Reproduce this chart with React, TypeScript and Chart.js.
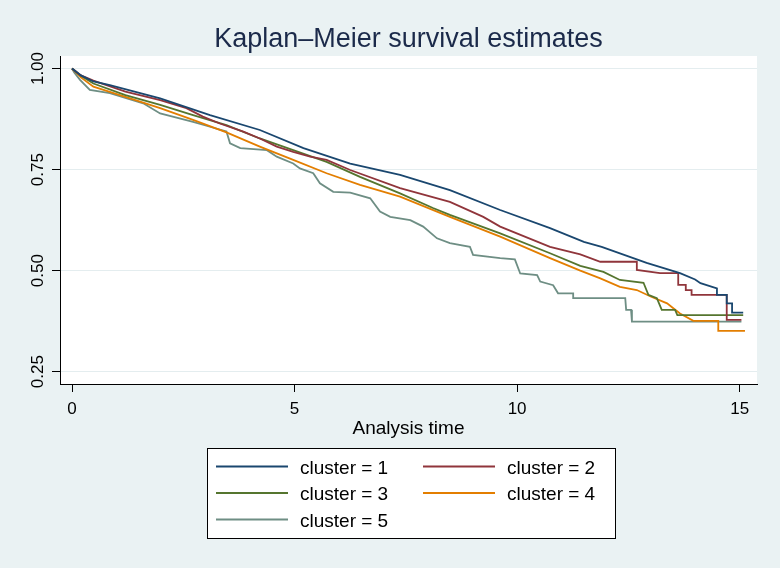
import React, { useEffect, useRef } from 'react';
import { Chart, registerables } from 'chart.js';

Chart.register(...registerables);

// ---- data ----
const titleText = 'Kaplan–Meier survival estimates';
const xAxisTitle = 'Analysis time';
const xTickValues = [0, 5, 10, 15];
const yTickValues = [0.25, 0.5, 0.75, 1.0];
const yTickLabels = ['0.25', '0.50', '0.75', '1.00'];
const clusterLabels = ['cluster = 1', 'cluster = 2', 'cluster = 3', 'cluster = 4', 'cluster = 5'];

const c1Time = [0, 0.2, 0.48, 0.85, 1.98, 3.1, 4.22, 5.2, 6.25, 7.37, 8.49, 9.62, 10.74, 11.5, 11.9, 12.91, 13.66, 14.0, 14.12, 14.49, 14.49, 14.71, 14.71, 14.83, 14.83, 15.08];
const c1Surv = [1, 0.983, 0.968, 0.959, 0.926, 0.885, 0.848, 0.803, 0.765, 0.737, 0.699, 0.65, 0.605, 0.571, 0.559, 0.519, 0.494, 0.478, 0.469, 0.456, 0.44, 0.44, 0.419, 0.419, 0.396, 0.396];

const c2Time = [0, 0.2, 0.48, 1.2, 1.98, 2.57, 2.94, 3.32, 3.85, 4.22, 4.6, 4.97, 5.35, 5.72, 6.25, 7.37, 8.49, 9.24, 9.62, 10.74, 11.42, 11.87, 12.69, 12.69, 13.21, 13.62, 13.62, 13.79, 13.79, 13.92, 13.92, 14.71, 14.71, 15.04];
const c2Surv = [1, 0.983, 0.97, 0.943, 0.922, 0.902, 0.881, 0.864, 0.844, 0.827, 0.807, 0.794, 0.782, 0.774, 0.749, 0.704, 0.67, 0.633, 0.609, 0.559, 0.54, 0.522, 0.522, 0.502, 0.494, 0.494, 0.465, 0.465, 0.452, 0.452, 0.44, 0.44, 0.378, 0.378];

const c3Time = [0, 0.2, 0.48, 1.2, 1.98, 2.72, 3.47, 4.22, 4.97, 5.72, 6.47, 7.37, 8.11, 8.49, 9.62, 10.74, 11.42, 11.94, 12.31, 12.84, 12.95, 13.14, 13.25, 13.55, 13.6, 15.08];
const c3Surv = [1, 0.982, 0.963, 0.934, 0.91, 0.885, 0.86, 0.827, 0.798, 0.769, 0.732, 0.691, 0.655, 0.638, 0.592, 0.543, 0.512, 0.497, 0.477, 0.47, 0.44, 0.432, 0.403, 0.403, 0.39, 0.39];

const c4Time = [0, 0.2, 0.48, 1.2, 1.98, 2.72, 3.47, 4.22, 4.97, 5.72, 6.47, 7.37, 8.49, 9.62, 10.74, 11.42, 11.87, 12.31, 12.69, 13.0, 13.37, 13.51, 13.66, 13.96, 14.52, 14.52, 15.12];
const c4Surv = [1, 0.978, 0.955, 0.93, 0.902, 0.873, 0.842, 0.807, 0.774, 0.741, 0.712, 0.683, 0.633, 0.584, 0.531, 0.5, 0.481, 0.46, 0.452, 0.436, 0.419, 0.407, 0.394, 0.376, 0.376, 0.351, 0.351];

const c5Time = [0, 0.05, 0.18, 0.4, 0.85, 1.6, 1.98, 2.72, 3.1, 3.47, 3.55, 3.78, 4.38, 4.6, 4.97, 5.12, 5.42, 5.57, 5.87, 6.25, 6.7, 6.92, 7.15, 7.6, 7.89, 8.2, 8.49, 8.94, 9.01, 9.62, 9.95, 10.07, 10.45, 10.52, 10.81, 10.92, 11.26, 11.26, 12.43, 12.45, 12.56, 12.58, 15.04];
const c5Surv = [1, 0.99, 0.972, 0.947, 0.939, 0.914, 0.889, 0.868, 0.856, 0.844, 0.815, 0.803, 0.798, 0.782, 0.765, 0.753, 0.741, 0.716, 0.695, 0.693, 0.679, 0.646, 0.633, 0.625, 0.609, 0.58, 0.568, 0.559, 0.539, 0.531, 0.528, 0.493, 0.489, 0.473, 0.464, 0.444, 0.444, 0.432, 0.432, 0.403, 0.403, 0.374, 0.374];

const seriesTimes = [c1Time, c2Time, c3Time, c4Time, c5Time];
const seriesSurv = [c1Surv, c2Surv, c3Surv, c4Surv, c5Surv];

// ---- styles ----
const lineColors = ['#1A476F', '#90353B', '#55752F', '#E37E00', '#6E8E84'];
const FONT = '"Liberation Sans", Arial, Helvetica, sans-serif';
const BG = '#EAF2F3';

const textPlugin = {
  id: 'stataText',
  beforeDraw(chart: any) {
    const { ctx, chartArea } = chart;
    ctx.save();
    ctx.fillStyle = '#FFFFFF';
    ctx.fillRect(chartArea.left, chartArea.top, chartArea.right - chartArea.left, chartArea.bottom - chartArea.top);
    ctx.restore();
  },
  afterDraw(chart: any) {
    const { ctx, chartArea, scales } = chart;
    const cx = (chartArea.left + chartArea.right) / 2;
    ctx.save();
    // title
    ctx.fillStyle = '#1B2A4A';
    ctx.font = `27px ${FONT}`;
    ctx.textAlign = 'center';
    ctx.textBaseline = 'alphabetic';
    ctx.fillText(titleText, cx, 47);

    // x tick labels
    ctx.fillStyle = '#000';
    ctx.font = `17px ${FONT}`;
    xTickValues.forEach((v) => {
      ctx.fillText(String(v), scales.x.getPixelForValue(v), chartArea.bottom + 30);
    });
    // axis title
    ctx.font = `19px ${FONT}`;
    ctx.fillText(xAxisTitle, cx, chartArea.bottom + 50);

    // y tick labels, rotated
    ctx.font = `17px ${FONT}`;
    yTickValues.forEach((v, i) => {
      ctx.save();
      ctx.translate(chartArea.left - 17, scales.y.getPixelForValue(v));
      ctx.rotate(-Math.PI / 2);
      ctx.textAlign = 'center';
      ctx.fillText(yTickLabels[i], 0, 0);
      ctx.restore();
    });

    // legend box
    const bx = 207.5, by = 448.5, bw = 408, bh = 90;
    ctx.fillStyle = '#FFFFFF';
    ctx.fillRect(bx, by, bw, bh);
    ctx.strokeStyle = '#000';
    ctx.lineWidth = 1;
    ctx.strokeRect(bx, by, bw, bh);
    ctx.font = `19px ${FONT}`;
    ctx.textAlign = 'left';
    clusterLabels.forEach((lab, i) => {
      const col = i % 2;
      const row = Math.floor(i / 2);
      const lx = 216 + col * 207;
      const ly = 466.5 + row * 26.5;
      ctx.strokeStyle = lineColors[i];
      ctx.lineWidth = 1.8;
      ctx.beginPath();
      ctx.moveTo(lx, ly);
      ctx.lineTo(lx + 72, ly);
      ctx.stroke();
      ctx.fillStyle = '#000';
      ctx.fillText(lab, lx + 84, ly + 7);
    });
    ctx.restore();
  },
};

export default function App() {
  const ref = useRef<HTMLCanvasElement>(null);
  useEffect(() => {
    const datasets = seriesTimes.map((ts, i) => ({
      label: clusterLabels[i],
      data: ts.map((t, j) => ({ x: t, y: seriesSurv[i][j] })),
      borderColor: lineColors[i],
      backgroundColor: lineColors[i],
      borderWidth: 1.8,
      pointRadius: 0,
      tension: 0,
      fill: false,
    }));
    const chart = new Chart(ref.current as HTMLCanvasElement, {
      type: 'line',
      data: { datasets },
      options: {
        responsive: false,
        maintainAspectRatio: false,
        devicePixelRatio: 1,
        animation: false,
        layout: { padding: { left: 0, top: 56, right: 23, bottom: 0 } },
        plugins: {
          legend: { display: false },
          tooltip: { enabled: false },
          title: { display: false },
        },
        scales: {
          x: {
            type: 'linear',
            min: -0.27,
            max: 15.39,
            afterBuildTicks: (s: any) => {
              s.ticks = xTickValues.map((v) => ({ value: v }));
            },
            afterFit: (s: any) => {
              s.height = 184;
            },
            ticks: { display: false },
            grid: { drawOnChartArea: false, drawTicks: true, tickLength: 8, tickColor: '#000', tickWidth: 1 },
            border: { display: true, color: '#000', width: 1 },
          },
          y: {
            type: 'linear',
            min: 0.2196,
            max: 1.031,
            afterBuildTicks: (s: any) => {
              s.ticks = yTickValues.map((v) => ({ value: v }));
            },
            afterFit: (s: any) => {
              s.width = 60;
            },
            ticks: { display: false },
            grid: { color: '#E4EDEF', lineWidth: 1, drawTicks: true, tickLength: 8, tickColor: '#000', tickWidth: 1 },
            border: { display: true, color: '#000', width: 1 },
          },
        },
      },
      plugins: [textPlugin],
    } as any);
    return () => chart.destroy();
  }, []);
  return (
    <div style={{ position: 'fixed', left: 0, top: 0, width: 780, height: 568, background: BG }}>
      <canvas ref={ref} width={780} height={568} style={{ display: 'block', width: 780, height: 568 }} />
    </div>
  );
}
